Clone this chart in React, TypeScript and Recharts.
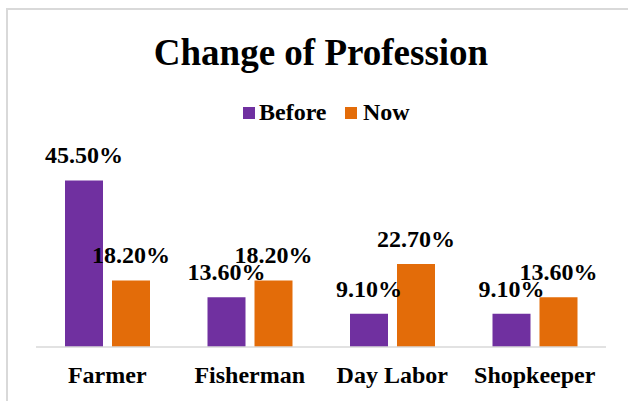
import React from 'react';
import { BarChart, Bar, XAxis, YAxis, LabelList } from 'recharts';

const professions = ['Farmer', 'Fisherman', 'Day Labor', 'Shopkeeper'];
const beforeValues = [45.5, 13.6, 9.1, 9.1];
const nowValues = [18.2, 18.2, 22.7, 13.6];

const BEFORE_COLOR = '#7030A0';
const NOW_COLOR = '#E36C09';
const FONT = '"Liberation Serif", "Times New Roman", serif';
const textStyle = { fontFamily: FONT, fontWeight: 'bold' as const, fill: '#000' };

const data = professions.map((name, i) => ({
  name,
  Before: beforeValues[i],
  Now: nowValues[i],
}));

function ValueLabel(props: any) {
  const { x, y, width, value } = props;
  return (
    <text x={Number(x) + Number(width) / 2} y={Number(y) - 17} textAnchor="middle" fontSize={24} style={textStyle}>
      {`${Number(value).toFixed(2)}%`}
    </text>
  );
}

function CategoryTick(props: any) {
  const { x, y, payload } = props;
  return (
    <text x={x} y={y + 36} textAnchor="middle" fontSize={24} style={textStyle}>
      {payload.value}
    </text>
  );
}

export default function App() {
  return (
    <div style={{ position: 'absolute', left: 0, top: 0, width: 628, height: 401, background: '#fff', fontFamily: FONT }}>
      <div
        style={{
          position: 'absolute',
          left: 6,
          top: 8,
          width: 640,
          height: 420,
          borderLeft: '2px solid #d9d9d9',
          borderTop: '2px solid #d9d9d9',
        }}
      />
      <BarChart
        width={628}
        height={401}
        data={data}
        margin={{ top: 164, right: 22, left: 36, bottom: 24 }}
        barCategoryGap={29}
        barGap={9}
        style={{ position: 'absolute', left: 0, top: 0 }}
      >
        <XAxis
          dataKey="name"
          height={30}
          axisLine={{ stroke: '#d9d9d9', strokeWidth: 1.5 }}
          tickLine={false}
          tickSize={0}
          tickMargin={0}
          tick={<CategoryTick />}
          interval={0}
        />
        <YAxis hide domain={[0, 50]} />
        <Bar dataKey="Before" fill={BEFORE_COLOR} isAnimationActive={false}>
          <LabelList dataKey="Before" content={<ValueLabel />} />
        </Bar>
        <Bar dataKey="Now" fill={NOW_COLOR} isAnimationActive={false}>
          <LabelList dataKey="Now" content={<ValueLabel />} />
        </Bar>
      </BarChart>
      <svg width={628} height={401} style={{ position: 'absolute', left: 0, top: 0, pointerEvents: 'none' }}>
        <text x={321} y={65} textAnchor="middle" fontSize={37} style={textStyle}>
          Change of Profession
        </text>
        <rect x={243} y={107} width={12} height={12} fill={BEFORE_COLOR} />
        <text x={259} y={120} fontSize={24} style={textStyle}>
          Before
        </text>
        <rect x={345} y={107} width={12} height={12} fill={NOW_COLOR} />
        <text x={363} y={120} fontSize={24} style={textStyle}>
          Now
        </text>
      </svg>
    </div>
  );
}
